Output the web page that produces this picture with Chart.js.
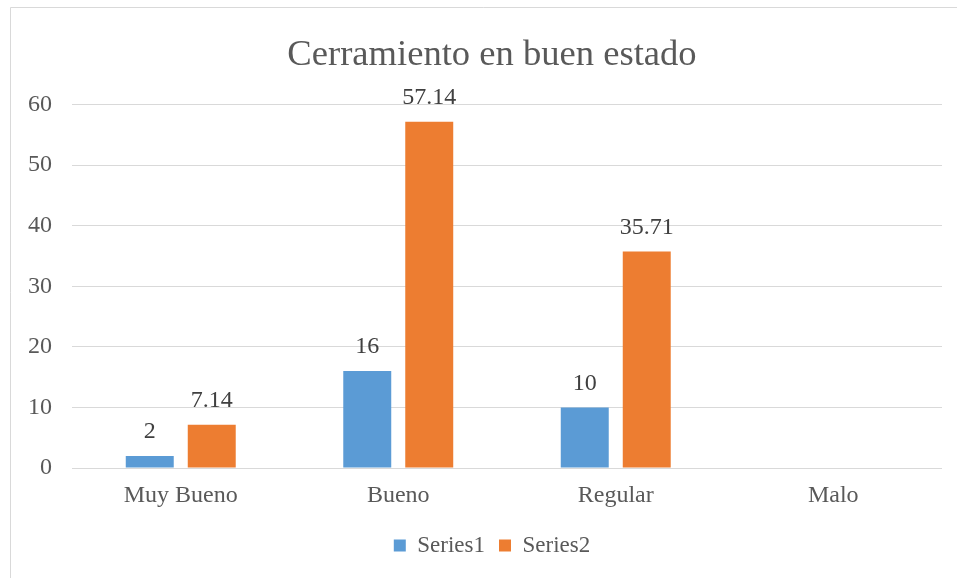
<!DOCTYPE html>
<html><head><meta charset="utf-8">
<script src="https://cdn.jsdelivr.net/npm/chart.js@4/dist/chart.umd.min.js"></script>
<style>html,body{margin:0;padding:0;background:#fff;} #wrap{width:957px;height:578px;position:relative;}</style>
</head><body><div id="wrap"><canvas id="c" width="957" height="578"></canvas></div>
<script>
const categories = ['Muy Bueno', 'Bueno', 'Regular', 'Malo'];
const series1 = [2, 16, 10, null];
const series2 = [7.14, 57.14, 35.71, null];
const seriesNames = ['Series1', 'Series2'];
const yMin = 0, yMax = 60, yStep = 10;

const FONT = "'Liberation Serif', 'Times New Roman', serif";
const TEXT = '#595959';

const framePlugin = {
  id: 'frame',
  beforeDraw(chart) {
    const ctx = chart.ctx;
    ctx.save();
    ctx.fillStyle = '#fff';
    ctx.fillRect(0, 0, chart.width, chart.height);
    ctx.strokeStyle = '#d9d9d9';
    ctx.lineWidth = 1;
    ctx.beginPath();
    ctx.moveTo(10.5, chart.height);
    ctx.lineTo(10.5, 7.5);
    ctx.lineTo(chart.width, 7.5);
    ctx.stroke();
    ctx.restore();
  }
};

const shiftPlugin = {
  id: 'shiftBlocks',
  afterLayout(chart) {
    const dx = 16;
    if (chart.titleBlock) { chart.titleBlock.left += dx; chart.titleBlock.right += dx; }
    if (chart.legend) { chart.legend.left += dx; chart.legend.right += dx; }
  }
};

const labelPlugin = {
  id: 'valueLabels',
  afterDatasetsDraw(chart) {
    const ctx = chart.ctx;
    ctx.save();
    ctx.font = '24px ' + FONT;
    ctx.fillStyle = '#404040';
    ctx.textAlign = 'center';
    ctx.textBaseline = 'middle';
    chart.data.datasets.forEach((ds, i) => {
      const meta = chart.getDatasetMeta(i);
      meta.data.forEach((bar, j) => {
        const v = ds.data[j];
        if (v === null || v === undefined) return;
        ctx.fillText(String(v), bar.x, bar.y - 24);
      });
    });
    ctx.restore();
  }
};

new Chart(document.getElementById('c'), {
  type: 'bar',
  data: {
    labels: categories,
    datasets: [
      { label: seriesNames[0], data: series1, backgroundColor: '#5B9BD5', categoryPercentage: 0.57, barPercentage: 0.774 },
      { label: seriesNames[1], data: series2, backgroundColor: '#ED7D31', categoryPercentage: 0.57, barPercentage: 0.774 }
    ]
  },
  options: {
    responsive: false,
    devicePixelRatio: 1,
    animation: false,
    layout: { padding: { left: 10, right: 15, top: 0, bottom: 11 } },
    plugins: {
      title: {
        display: true,
        text: 'Cerramiento en buen estado',
        color: TEXT,
        font: { family: FONT, size: 36.6, weight: 'normal', lineHeight: 1.2 },
        padding: { top: 33, bottom: 27.5 }
      },
      legend: {
        position: 'bottom',
        labels: {
          color: TEXT,
          font: { family: FONT, size: 23 },
          boxWidth: 12,
          boxHeight: 12,
          padding: 14
        }
      },
      tooltip: { enabled: false }
    },
    scales: {
      x: {
        grid: { display: false, drawTicks: false },
        border: { display: false },
        ticks: { color: TEXT, font: { family: FONT, size: 24 }, padding: 13 },
        afterFit(scale) { scale.height = 52; }
      },
      y: {
        min: yMin, max: yMax,
        grid: { color: '#d9d9d9', drawTicks: false, lineWidth: 1 },
        border: { display: false },
        ticks: { stepSize: yStep, color: TEXT, font: { family: FONT, size: 24 }, padding: 20 },
        afterFit(scale) { scale.width = 62; }
      }
    }
  },
  plugins: [framePlugin, shiftPlugin, labelPlugin]
});
</script>
</body></html>
